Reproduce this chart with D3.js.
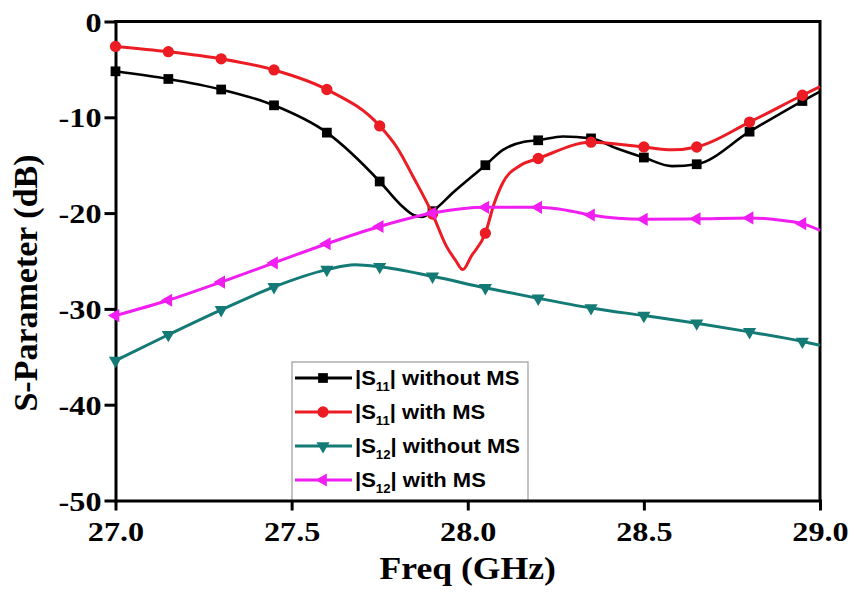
<!DOCTYPE html>
<html>
<head>
<meta charset="utf-8">
<script src="https://cdn.jsdelivr.net/npm/d3@7"></script>
<style>
  body { margin: 0; background: #fff; }
  svg { display: block; }
</style>
</head>
<body>
<svg id="chart" width="854" height="596"></svg>
<script>
// Axis ticks
const freqTicks = [27.0, 27.5, 28.0, 28.5, 29.0];
const dbTicks = [0, -10, -20, -30, -40, -50];

// Frequencies that carry a marker symbol
const markerFreqs = [27.0, 27.15, 27.3, 27.45, 27.6, 27.75, 27.9, 28.05, 28.2, 28.35, 28.5, 28.65, 28.8, 28.95];

// |S11| without MS
const s11WithoutFreq = [27.0, 27.15, 27.3, 27.45, 27.6, 27.75, 27.81, 27.846, 27.87, 27.9, 27.96, 28.05, 28.1, 28.16, 28.2, 28.27, 28.35, 28.42, 28.5, 28.58, 28.65, 28.8, 28.95, 29.0];
const s11WithoutDb   = [-5.2, -6.0, -7.1, -8.75, -11.6, -16.7, -19.15, -20.2, -20.4, -19.8, -17.8, -15.0, -13.4, -12.55, -12.4, -12.0, -12.2, -13.2, -14.2, -15.1, -14.9, -11.5, -8.3, -7.3];

// |S11| with MS
const s11WithFreq = [27.0, 27.15, 27.3, 27.45, 27.6, 27.75, 27.8, 27.845, 27.9, 27.94, 27.965, 27.986, 28.01, 28.05, 28.075, 28.1, 28.15, 28.2, 28.35, 28.5, 28.58, 28.65, 28.8, 28.95, 29.0];
const s11WithDb   = [-2.6, -3.15, -3.9, -5.06, -7.1, -10.9, -13.2, -16.2, -20.1, -23.5, -24.9, -25.9, -24.5, -22.1, -19.0, -16.8, -15.0, -14.3, -12.6, -13.1, -13.4, -13.1, -10.5, -7.7, -6.8];

// |S12| without MS
const s12WithoutFreq = [27.0, 27.15, 27.3, 27.45, 27.6, 27.68, 27.75, 27.9, 28.05, 28.2, 28.35, 28.5, 28.65, 28.8, 28.95, 29.0];
const s12WithoutDb   = [-35.4, -32.7, -30.1, -27.7, -25.9, -25.4, -25.6, -26.6, -27.8, -28.9, -29.9, -30.7, -31.5, -32.4, -33.4, -33.8];

// |S12| with MS
const s12WithFreq = [27.0, 27.15, 27.3, 27.45, 27.6, 27.75, 27.9, 28.05, 28.2, 28.28, 28.35, 28.5, 28.65, 28.8, 28.9, 28.95, 29.0];
const s12WithDb   = [-30.7, -29.1, -27.2, -25.2, -23.2, -21.4, -20.0, -19.4, -19.4, -19.7, -20.2, -20.65, -20.6, -20.5, -20.8, -21.1, -21.8];

const series = [
  { label: "without MS", sub: "11", f: s11WithoutFreq, v: s11WithoutDb, color: "#000000", symbol: d3.symbolSquare, size: 95, rot: 0, width: 2.6 },
  { label: "with MS",    sub: "11", f: s11WithFreq,    v: s11WithDb,    color: "#ec1c24", symbol: d3.symbolCircle, size: 100, rot: 0, width: 3 },
  { label: "without MS", sub: "12", f: s12WithoutFreq, v: s12WithoutDb, color: "#137a75", symbol: d3.symbolTriangle, size: 75, rot: 180, width: 3 },
  { label: "with MS",    sub: "12", f: s12WithFreq,    v: s12WithDb,    color: "#f01ef0", symbol: d3.symbolTriangle, size: 75, rot: -90, width: 3 }
];

const svg = d3.select("#chart");
const x = d3.scaleLinear().domain([27, 29]).range([115.5, 820]);
const y = d3.scaleLinear().domain([-50, 0]).range([500.5, 21.5]);

const SERIF = "Liberation Serif";
const SANS = "Liberation Sans";
const stretch = 1.15;

// Legend box
const legend = svg.append("g");
legend.append("rect")
  .attr("x", 292).attr("y", 362).attr("width", 236).attr("height", 139)
  .attr("fill", "#fff").attr("stroke", "#9a9a9a").attr("stroke-width", 1.2);

series.forEach((s, i) => {
  const cy = 378 + i * 34;
  const g = legend.append("g");
  g.append("line").attr("x1", 295).attr("x2", 352).attr("y1", cy).attr("y2", cy)
    .attr("stroke", s.color).attr("stroke-width", 3);
  g.append("path")
    .attr("d", d3.symbol().type(s.symbol).size(s.size)())
    .attr("transform", `translate(323,${cy}) rotate(${s.rot})`)
    .attr("fill", s.color);
  const t = g.append("text")
    .attr("transform", `translate(355,${cy + 6.5}) scale(1.1,1)`)
    .attr("font-family", SANS).attr("font-weight", "bold").attr("font-size", 20)
    .attr("fill", "#000");
  t.append("tspan").text("|S");
  t.append("tspan").attr("font-size", 12).attr("dy", 6).text(s.sub);
  t.append("tspan").attr("dy", -6).text("| " + s.label);
});

// Axes
const xAxis = svg.append("g")
  .attr("transform", `translate(0,${y(-50)})`)
  .call(d3.axisBottom(x).tickValues(freqTicks).tickSize(10).tickSizeOuter(0).tickFormat(d3.format(".1f")));
const yAxis = svg.append("g")
  .attr("transform", `translate(${x(27)},0)`)
  .call(d3.axisLeft(y).tickValues(dbTicks).tickSize(11).tickSizeOuter(0).tickFormat(d => String(d)));

[xAxis, yAxis].forEach(a => {
  a.attr("font-family", SERIF).attr("font-size", 28).attr("font-weight", "bold");
  a.select(".domain").attr("stroke", "#000").attr("stroke-width", 3).attr("stroke-linecap", "square");
  a.selectAll(".tick line").attr("stroke", "#000").attr("stroke-width", 3);
  a.selectAll(".tick text")
    .attr("font-family", SERIF).attr("font-weight", "bold").attr("font-size", 28).attr("fill", "#000");
});
xAxis.selectAll(".tick text")
  .attr("y", 0).attr("dy", 0)
  .attr("transform", `translate(0,40.5) scale(${stretch},1)`);
yAxis.selectAll(".tick text")
  .attr("x", 0).attr("dy", "0.34em")
  .attr("transform", `translate(-14,0) scale(${stretch},1)`);

// Top and right frame
svg.append("path")
  .attr("d", `M${x(27)},${y(0)}H${x(29)}V${y(-50)}`)
  .attr("fill", "none").attr("stroke", "#000").attr("stroke-width", 3).attr("stroke-linecap", "square");

// Series lines and markers
const line = d3.line().x(d => x(d.f)).y(d => y(d.v)).curve(d3.curveMonotoneX);
series.forEach(s => {
  const pts = s.f.map((f, i) => ({ f, v: s.v[i] }));
  svg.append("path").datum(pts)
    .attr("d", line)
    .attr("fill", "none").attr("stroke", s.color).attr("stroke-width", s.width)
    .attr("stroke-linejoin", "round");
  const marked = pts.filter(p => markerFreqs.some(m => Math.abs(m - p.f) < 1e-6));
  svg.append("g").selectAll("path").data(marked).join("path")
    .attr("d", d3.symbol().type(s.symbol).size(s.size)())
    .attr("transform", d => `translate(${x(d.f)},${y(d.v)}) rotate(${s.rot})`)
    .attr("fill", s.color);
});

// Axis titles
svg.append("text")
  .attr("transform", `translate(${(x(27) + x(29)) / 2},579) scale(${stretch},1)`)
  .attr("text-anchor", "middle")
  .attr("font-family", SERIF).attr("font-weight", "bold").attr("font-size", 31)
  .text("Freq (GHz)");
svg.append("text")
  .attr("transform", "translate(37,283) rotate(-90)")
  .attr("text-anchor", "middle")
  .attr("font-family", SERIF).attr("font-weight", "bold").attr("font-size", 34)
  .text("S-Parameter (dB)");
</script>
</body>
</html>
